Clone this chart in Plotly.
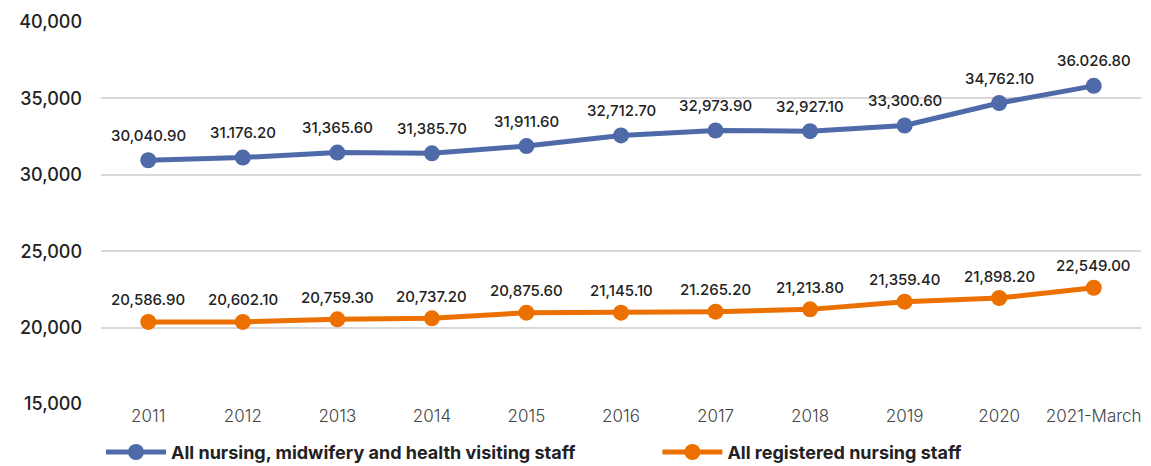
import plotly.graph_objects as go

categories = ["2011", "2012", "2013", "2014", "2015", "2016", "2017", "2018", "2019", "2020", "2021-March"]

nursing_all = [30954, 31129, 31454, 31408, 31882, 32577, 32901, 32856, 33226, 34699, 35822]
nursing_all_labels = ["30,040.90", "31.176.20", "31,365.60", "31,385.70", "31,911.60", "32,712.70",
                      "32,973.90", "32,927.10", "33,300.60", "34,762.10", "36.026.80"]

registered = [20372, 20372, 20541, 20606, 20978, 20978, 21043, 21193, 21695, 21936, 22608]
registered_labels = ["20,586.90", "20,602.10", "20,759.30", "20,737.20", "20,875.60", "21,145.10",
                     "21.265.20", "21,213.80", "21,359.40", "21,898.20", "22,549.00"]

y_ticks = [15000, 20000, 25000, 30000, 35000, 40000]

BLUE = "#4f6aa8"
ORANGE = "#ec7000"
FONT = "Inter, Lato, sans-serif"

fig = go.Figure()
fig.add_trace(go.Scatter(
    x=categories, y=nursing_all, mode="lines+markers",
    name="All nursing, midwifery and health visiting staff",
    line=dict(color=BLUE, width=5), marker=dict(color=BLUE, size=16),
    legend="legend",
))
fig.add_trace(go.Scatter(
    x=categories, y=registered, mode="lines+markers",
    name="All registered nursing staff",
    line=dict(color=ORANGE, width=5), marker=dict(color=ORANGE, size=16),
    legend="legend2",
))

for ys, labels, shift in [(nursing_all, nursing_all_labels, 25),
                          (registered, registered_labels, 22)]:
    for i, (v, t) in enumerate(zip(ys, labels)):
        fig.add_annotation(x=i, y=v, xref="x", yref="y", text=t, showarrow=False, yshift=shift,
                           font=dict(family=FONT, size=15, color="#222", weight=500))

legend_font = dict(family=FONT, size=18, color="#222", weight=700)
fig.update_layout(
    width=1151, height=466,
    margin=dict(l=101, r=10, t=22, b=62, autoexpand=False),
    paper_bgcolor="white", plot_bgcolor="white",
    font=dict(family=FONT, color="#222"),
    showlegend=True,
    legend=dict(orientation="h", x=0, xanchor="left", y=-0.078, yanchor="top",
                font=legend_font, itemwidth=60),
    legend2=dict(orientation="h", x=0.535, xanchor="left", y=-0.078, yanchor="top",
                 font=legend_font, itemwidth=60),
)
fig.update_xaxes(type="category", range=[-0.5, 10.5], showgrid=False, showline=False, zeroline=False,
                 tickfont=dict(family=FONT, size=17, color="#444", weight=300))
fig.update_yaxes(range=[15000, 40000], tickvals=y_ticks, tickformat=",", showgrid=True,
                 gridcolor="#d9d9d9", gridwidth=1.5, zeroline=False, showline=False,
                 ticklabelstandoff=18,
                 tickfont=dict(family=FONT, size=18, color="#222", weight=500))

fig.write_html("out.html")
